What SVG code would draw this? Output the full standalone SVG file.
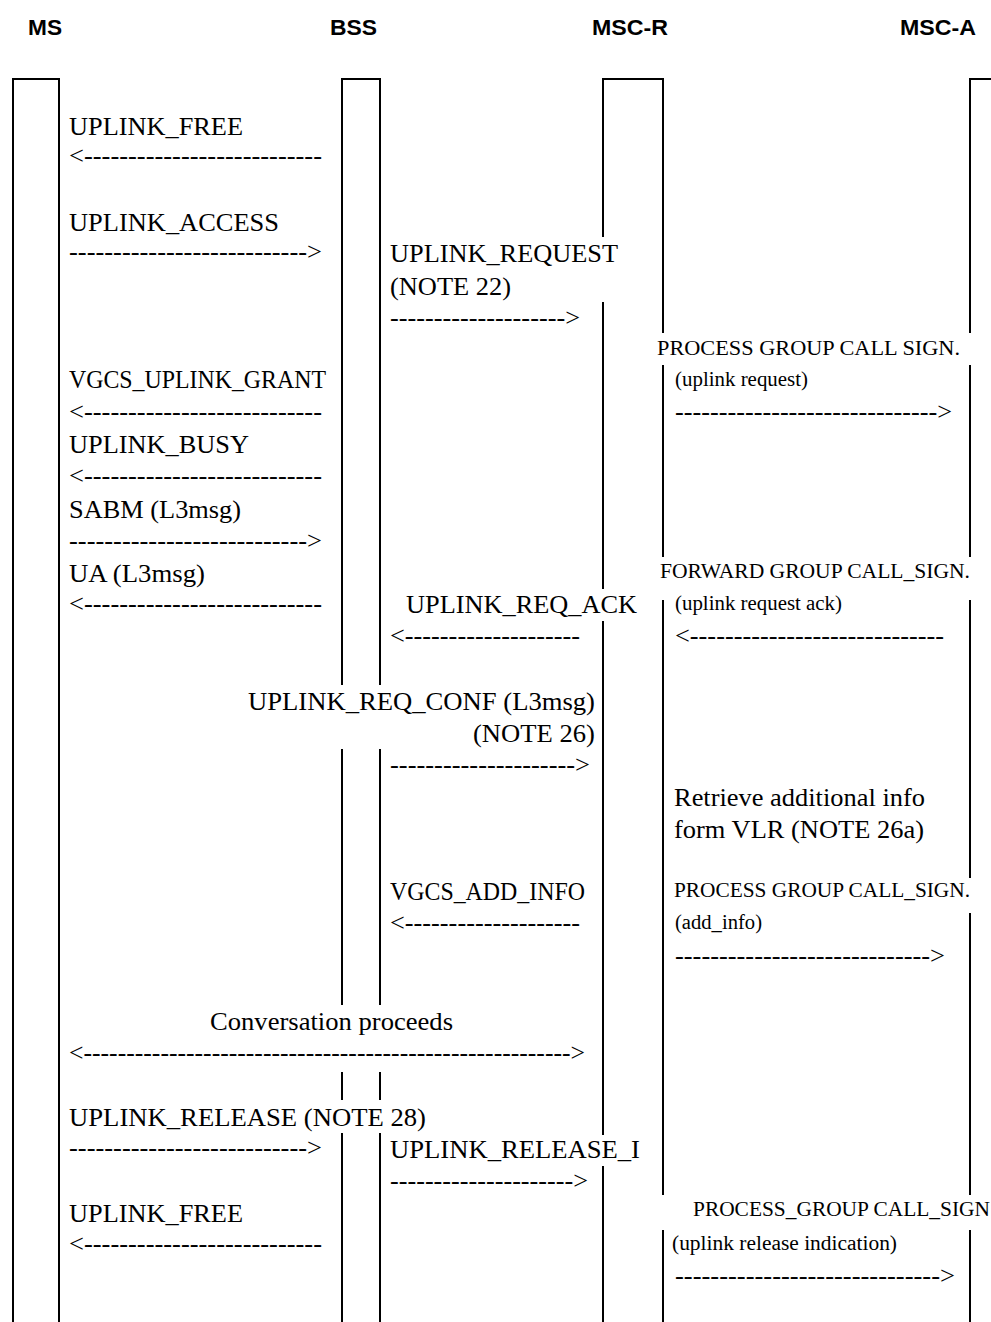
<svg xmlns="http://www.w3.org/2000/svg" width="991" height="1322" viewBox="0 0 991 1322">
<style>
.h{font-family:"Liberation Sans",Arial,sans-serif;font-weight:bold;font-size:22px;fill:#000}
.t{font-family:"Liberation Serif","Times New Roman",serif;font-size:25px;fill:#000}
.s{font-family:"Liberation Serif","Times New Roman",serif;font-size:20px;fill:#000}
.ln{fill:none;stroke:#000;stroke-width:2}
</style>
<rect width="991" height="1322" fill="#fff"/>
<g id="MS">
<text class="h" x="28" y="35" textLength="34" lengthAdjust="spacingAndGlyphs">MS</text>
<path class="ln" d="M13 1322V79H59V1322"/>
</g>
<g id="BSS">
<text class="h" x="330" y="35" textLength="47" lengthAdjust="spacingAndGlyphs">BSS</text>
<path class="ln" d="M342 685V79H380V685M342 749V1005M380 749V1005M342 1072V1100M380 1072V1100M342 1133V1322M380 1133V1322"/>
</g>
<g id="MSC-R">
<text class="h" x="592" y="35" textLength="76" lengthAdjust="spacingAndGlyphs">MSC-R</text>
<path class="ln" d="M603 237V79H663V333M603 302V589M603 621V1135M603 1166V1322M663 365V557M663 600V1195M663 1230V1322"/>
</g>
<g id="MSC-A">
<text class="h" x="900" y="35" textLength="76" lengthAdjust="spacingAndGlyphs">MSC-A</text>
<path class="ln" d="M991 79H970V333M970 365V557M970 600V878M970 913V1195M970 1230V1322"/>
</g>
<g id="connectors">
<text class="t" x="69" y="135" textLength="174" lengthAdjust="spacingAndGlyphs">UPLINK_FREE</text>
<text class="t" x="69" y="164" textLength="253" lengthAdjust="spacingAndGlyphs">&lt;---------------------------</text>
<text class="t" x="69" y="231" textLength="210" lengthAdjust="spacingAndGlyphs">UPLINK_ACCESS</text>
<text class="t" x="69" y="260" textLength="253" lengthAdjust="spacingAndGlyphs">---------------------------&gt;</text>
<text class="t" x="390" y="262" textLength="228" lengthAdjust="spacingAndGlyphs">UPLINK_REQUEST</text>
<text class="t" x="390" y="295" textLength="121" lengthAdjust="spacingAndGlyphs">(NOTE 22)</text>
<text class="t" x="390" y="326" textLength="190" lengthAdjust="spacingAndGlyphs">--------------------&gt;</text>
<text class="s" x="657" y="355" textLength="303" lengthAdjust="spacingAndGlyphs">PROCESS GROUP CALL SIGN.</text>
<text class="t" x="69" y="388" textLength="257" lengthAdjust="spacingAndGlyphs">VGCS_UPLINK_GRANT</text>
<text class="s" x="675" y="386" textLength="133" lengthAdjust="spacingAndGlyphs">(uplink request)</text>
<text class="t" x="69" y="420" textLength="253" lengthAdjust="spacingAndGlyphs">&lt;---------------------------</text>
<text class="t" x="675" y="420" textLength="277" lengthAdjust="spacingAndGlyphs">------------------------------&gt;</text>
<text class="t" x="69" y="453" textLength="180" lengthAdjust="spacingAndGlyphs">UPLINK_BUSY</text>
<text class="t" x="69" y="484" textLength="253" lengthAdjust="spacingAndGlyphs">&lt;---------------------------</text>
<text class="t" x="69" y="518" textLength="172" lengthAdjust="spacingAndGlyphs">SABM (L3msg)</text>
<text class="t" x="69" y="549" textLength="253" lengthAdjust="spacingAndGlyphs">---------------------------&gt;</text>
<text class="t" x="69" y="582" textLength="136" lengthAdjust="spacingAndGlyphs">UA (L3msg)</text>
<text class="s" x="660" y="578" textLength="310" lengthAdjust="spacingAndGlyphs">FORWARD GROUP CALL_SIGN.</text>
<text class="t" x="69" y="612" textLength="253" lengthAdjust="spacingAndGlyphs">&lt;---------------------------</text>
<text class="t" x="406" y="613" textLength="231" lengthAdjust="spacingAndGlyphs">UPLINK_REQ_ACK</text>
<text class="s" x="675" y="610" textLength="167" lengthAdjust="spacingAndGlyphs">(uplink request ack)</text>
<text class="t" x="390" y="644" textLength="190" lengthAdjust="spacingAndGlyphs">&lt;--------------------</text>
<text class="t" x="675" y="644" textLength="269" lengthAdjust="spacingAndGlyphs">&lt;-----------------------------</text>
<text class="t" x="248" y="710" textLength="347" lengthAdjust="spacingAndGlyphs">UPLINK_REQ_CONF (L3msg)</text>
<text class="t" x="473" y="742" textLength="122" lengthAdjust="spacingAndGlyphs">(NOTE 26)</text>
<text class="t" x="390" y="773" textLength="200" lengthAdjust="spacingAndGlyphs">---------------------&gt;</text>
<text class="t" x="674" y="806" textLength="251" lengthAdjust="spacingAndGlyphs">Retrieve additional info</text>
<text class="t" x="674" y="838" textLength="250" lengthAdjust="spacingAndGlyphs">form VLR (NOTE 26a)</text>
<text class="t" x="390" y="900" textLength="195" lengthAdjust="spacingAndGlyphs">VGCS_ADD_INFO</text>
<text class="s" x="674" y="897" textLength="296" lengthAdjust="spacingAndGlyphs">PROCESS GROUP CALL_SIGN.</text>
<text class="t" x="390" y="931" textLength="190" lengthAdjust="spacingAndGlyphs">&lt;--------------------</text>
<text class="s" x="675" y="929" textLength="87" lengthAdjust="spacingAndGlyphs">(add_info)</text>
<text class="t" x="675" y="964" textLength="270" lengthAdjust="spacingAndGlyphs">-----------------------------&gt;</text>
<text class="t" x="210" y="1030" textLength="243" lengthAdjust="spacingAndGlyphs">Conversation proceeds</text>
<text class="t" x="69" y="1061" textLength="516" lengthAdjust="spacingAndGlyphs">&lt;---------------------------------------------------------&gt;</text>
<text class="t" x="69" y="1126" textLength="357" lengthAdjust="spacingAndGlyphs">UPLINK_RELEASE (NOTE 28)</text>
<text class="t" x="69" y="1156" textLength="253" lengthAdjust="spacingAndGlyphs">---------------------------&gt;</text>
<text class="t" x="390" y="1158" textLength="250" lengthAdjust="spacingAndGlyphs">UPLINK_RELEASE_I</text>
<text class="t" x="390" y="1189" textLength="198" lengthAdjust="spacingAndGlyphs">---------------------&gt;</text>
<text class="s" x="693" y="1216" textLength="297" lengthAdjust="spacingAndGlyphs">PROCESS_GROUP CALL_SIGN</text>
<text class="t" x="69" y="1222" textLength="174" lengthAdjust="spacingAndGlyphs">UPLINK_FREE</text>
<text class="s" x="672" y="1250" textLength="225" lengthAdjust="spacingAndGlyphs">(uplink release indication)</text>
<text class="t" x="69" y="1252" textLength="253" lengthAdjust="spacingAndGlyphs">&lt;---------------------------</text>
<text class="t" x="675" y="1284" textLength="280" lengthAdjust="spacingAndGlyphs">------------------------------&gt;</text>
</g>
</svg>
